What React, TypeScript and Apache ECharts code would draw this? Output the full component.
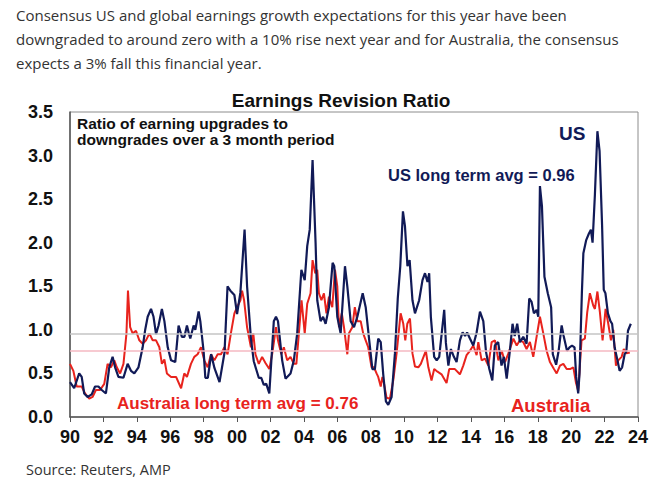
import React, { useEffect, useRef } from "react";
import * as echarts from "echarts";

// Ratio of earnings upgrades to downgrades, [decimal year, ratio]
const usRatio: [number, number][] = [
  [1990.0, 0.4], [1990.25, 0.33], [1990.55, 0.5], [1990.7, 0.46], [1990.85, 0.27], [1991.05, 0.23],
  [1991.3, 0.26], [1991.5, 0.35], [1991.7, 0.35], [1991.9, 0.31], [1992.15, 0.27], [1992.35, 0.57],
  [1992.55, 0.69], [1992.7, 0.57], [1992.9, 0.46], [1993.2, 0.45], [1993.45, 0.61], [1993.65, 0.53],
  [1993.85, 0.5], [1994.1, 0.57], [1994.35, 0.8], [1994.5, 1.0], [1994.65, 1.15], [1994.85, 1.24],
  [1995.0, 1.15], [1995.15, 0.95], [1995.3, 1.05], [1995.5, 1.24], [1995.65, 1.1], [1995.85, 0.8],
  [1996.05, 0.65], [1996.3, 0.63], [1996.5, 1.05], [1996.7, 0.92], [1996.85, 0.92], [1997.0, 1.05],
  [1997.1, 0.97], [1997.2, 0.9], [1997.4, 1.05], [1997.5, 1.0], [1997.7, 1.21], [1997.8, 1.1],
  [1998.0, 0.75], [1998.1, 0.45], [1998.25, 0.45], [1998.45, 0.72], [1998.65, 0.56], [1998.95, 0.4],
  [1999.25, 0.74], [1999.43, 1.5], [1999.6, 1.45], [1999.84, 1.4], [2000.0, 1.18], [2000.2, 1.43],
  [2000.45, 2.15], [2000.6, 1.5], [2000.83, 0.9], [2001.0, 0.64], [2001.3, 0.45], [2001.45, 0.45],
  [2001.6, 0.37], [2001.75, 0.38], [2001.93, 0.27], [2002.2, 1.1], [2002.33, 1.15], [2002.45, 1.1],
  [2002.7, 0.65], [2002.9, 0.44], [2003.2, 0.5], [2003.4, 0.65], [2003.6, 0.96], [2003.85, 1.69],
  [2004.05, 1.57], [2004.2, 1.96], [2004.35, 2.15], [2004.52, 2.95], [2004.7, 2.0], [2004.8, 1.34],
  [2005.0, 1.1], [2005.15, 1.15], [2005.3, 1.07], [2005.5, 1.26], [2005.72, 1.77], [2005.82, 1.73],
  [2006.0, 1.15], [2006.2, 0.96], [2006.46, 1.73], [2006.6, 1.5], [2006.8, 1.1], [2007.0, 1.03],
  [2007.2, 1.15], [2007.52, 1.42], [2007.7, 1.26], [2007.9, 0.9], [2008.1, 0.55], [2008.25, 0.55],
  [2008.45, 0.9], [2008.6, 0.86], [2008.75, 0.49], [2008.91, 0.18], [2009.05, 0.14], [2009.25, 0.23],
  [2009.45, 0.73], [2009.62, 1.36], [2009.77, 1.73], [2009.93, 2.36], [2010.05, 2.19], [2010.2, 1.73],
  [2010.33, 1.8], [2010.5, 1.34], [2010.65, 1.19], [2010.9, 1.34], [2011.1, 1.57], [2011.25, 1.65],
  [2011.4, 1.55], [2011.5, 1.65], [2011.6, 1.15], [2011.8, 0.69], [2011.95, 0.65], [2012.1, 0.69],
  [2012.4, 1.23], [2012.5, 0.85], [2012.65, 0.59], [2012.8, 0.78], [2012.98, 0.69], [2013.14, 0.63],
  [2013.34, 0.88], [2013.5, 0.97], [2013.65, 0.93], [2013.77, 0.97], [2013.94, 0.9], [2014.14, 0.82],
  [2014.34, 0.97], [2014.54, 1.21], [2014.74, 1.1], [2014.9, 0.75], [2015.1, 0.55], [2015.28, 0.42],
  [2015.43, 0.82], [2015.63, 0.86], [2015.83, 0.59], [2015.97, 0.69], [2016.14, 0.44], [2016.33, 0.76],
  [2016.49, 1.07], [2016.62, 0.93], [2016.77, 1.07], [2016.93, 0.86], [2017.13, 0.92], [2017.33, 0.84],
  [2017.49, 1.36], [2017.63, 1.32], [2017.77, 1.19], [2017.93, 1.23], [2018.03, 1.15], [2018.13, 2.65],
  [2018.25, 2.42], [2018.4, 1.61], [2018.6, 1.42], [2018.8, 1.26], [2018.9, 0.72], [2019.1, 0.6],
  [2019.25, 0.76], [2019.43, 1.05], [2019.55, 0.93], [2019.75, 0.76], [2019.9, 0.8], [2020.05, 0.82],
  [2020.2, 0.8], [2020.3, 0.46], [2020.42, 0.27], [2020.5, 0.5], [2020.64, 1.42], [2020.73, 1.88],
  [2020.9, 2.03], [2021.05, 2.1], [2021.18, 2.15], [2021.28, 2.0], [2021.42, 2.55], [2021.57, 3.28],
  [2021.7, 3.05], [2021.85, 2.2], [2021.95, 1.46], [2022.05, 1.42], [2022.2, 1.19], [2022.35, 1.1],
  [2022.45, 1.07], [2022.6, 0.8], [2022.77, 0.65], [2022.9, 0.53], [2023.05, 0.57], [2023.2, 0.72],
  [2023.3, 0.75], [2023.4, 0.99], [2023.57, 1.07],
];

const australiaRatio: [number, number][] = [
  [1990.0, 0.61], [1990.2, 0.53], [1990.4, 0.35], [1990.7, 0.35], [1990.9, 0.27], [1991.15, 0.21],
  [1991.35, 0.23], [1991.55, 0.31], [1991.8, 0.31], [1992.05, 0.38], [1992.25, 0.61], [1992.45, 0.57],
  [1992.65, 0.65], [1992.8, 0.57], [1993.0, 0.5], [1993.2, 0.61], [1993.38, 0.96], [1993.47, 1.45],
  [1993.6, 1.03], [1993.75, 0.96], [1993.95, 0.99], [1994.15, 0.88], [1994.35, 0.84], [1994.55, 0.88],
  [1994.75, 0.96], [1994.95, 0.88], [1995.15, 0.88], [1995.35, 0.8], [1995.5, 0.61], [1995.65, 0.66],
  [1995.8, 0.5], [1996.05, 0.46], [1996.35, 0.46], [1996.65, 0.33], [1996.84, 0.5], [1997.0, 0.46],
  [1997.24, 0.61], [1997.44, 0.69], [1997.64, 0.72], [1997.84, 0.8], [1998.04, 0.65], [1998.24, 0.57],
  [1998.44, 0.72], [1998.64, 0.65], [1998.84, 0.72], [1999.04, 0.72], [1999.24, 0.8], [1999.43, 0.72],
  [1999.63, 0.96], [1999.84, 1.19], [2000.0, 1.26], [2000.2, 1.34], [2000.3, 1.45], [2000.42, 1.34],
  [2000.6, 1.03], [2000.83, 0.8], [2000.97, 0.96], [2001.1, 0.72], [2001.3, 0.61], [2001.5, 0.69],
  [2001.7, 0.62], [2001.93, 0.55], [2002.1, 0.72], [2002.33, 1.03], [2002.45, 0.88], [2002.65, 0.72],
  [2002.8, 0.8], [2003.0, 0.65], [2003.2, 0.69], [2003.4, 0.61], [2003.55, 0.61], [2003.7, 0.96],
  [2003.86, 1.34], [2004.05, 0.96], [2004.2, 1.3], [2004.4, 1.42], [2004.52, 1.8], [2004.68, 1.65],
  [2004.8, 1.69], [2004.9, 1.42], [2005.05, 1.34], [2005.2, 1.42], [2005.35, 1.19], [2005.5, 1.38],
  [2005.7, 1.26], [2005.86, 1.69], [2006.0, 1.5], [2006.1, 1.03], [2006.27, 1.19], [2006.4, 1.03],
  [2006.6, 0.72], [2006.7, 0.96], [2006.9, 1.03], [2007.05, 1.26], [2007.2, 1.1], [2007.4, 1.1],
  [2007.55, 0.96], [2007.7, 0.88], [2007.85, 0.8], [2008.05, 0.57], [2008.2, 0.57], [2008.35, 0.5],
  [2008.45, 0.46], [2008.6, 0.35], [2008.7, 0.46], [2008.8, 0.38], [2008.95, 0.22], [2009.15, 0.21],
  [2009.35, 0.42], [2009.55, 0.73], [2009.79, 1.19], [2009.95, 1.07], [2010.07, 0.88], [2010.19, 1.07],
  [2010.35, 1.13], [2010.5, 0.73], [2010.65, 0.58], [2010.85, 0.57], [2011.0, 0.61], [2011.3, 0.76],
  [2011.45, 0.57], [2011.64, 0.42], [2011.8, 0.55], [2012.0, 0.52], [2012.24, 0.49], [2012.54, 0.39],
  [2012.7, 0.55], [2013.04, 0.55], [2013.34, 0.49], [2013.54, 0.59], [2013.74, 0.71], [2013.94, 0.76],
  [2014.14, 0.82], [2014.34, 0.71], [2014.44, 0.86], [2014.64, 0.65], [2014.84, 0.67], [2015.04, 0.59],
  [2015.24, 0.86], [2015.44, 0.88], [2015.64, 0.65], [2015.84, 0.76], [2016.04, 0.63], [2016.24, 0.73],
  [2016.54, 0.9], [2016.74, 0.82], [2016.93, 0.88], [2017.13, 0.86], [2017.33, 0.78], [2017.53, 0.86],
  [2017.73, 0.69], [2017.93, 0.92], [2018.13, 1.15], [2018.33, 0.96], [2018.53, 0.76], [2018.73, 0.63],
  [2018.97, 0.55], [2019.13, 0.5], [2019.33, 0.59], [2019.53, 0.61], [2019.73, 0.55], [2019.93, 0.55],
  [2020.13, 0.57], [2020.29, 0.39], [2020.42, 0.3], [2020.62, 0.88], [2020.82, 0.9], [2020.96, 1.2],
  [2021.12, 1.42], [2021.32, 1.28], [2021.42, 1.24], [2021.57, 1.44], [2021.72, 1.2], [2021.88, 0.88],
  [2022.06, 1.24], [2022.22, 1.07], [2022.38, 0.88], [2022.52, 1.0], [2022.68, 0.59], [2022.82, 0.65],
  [2023.02, 0.69], [2023.15, 0.78], [2023.31, 0.73], [2023.51, 0.74],
];

const usLongTermAvg = 0.96;
const australiaLongTermAvg = 0.76;

const introLines = [
  "Consensus US and global earnings growth expectations for this year have been",
  "downgraded to around zero with a 10% rise next year and for Australia, the consensus",
  "expects a 3% fall this financial year.",
];

const NAVY = "#111a57";
const RED = "#e8231d";
const ARIAL = "'Liberation Sans', Arial, sans-serif";

export default function App() {
  const ref = useRef<HTMLDivElement>(null);

  useEffect(() => {
    if (!ref.current) return;
    const chart = echarts.init(ref.current, null, { renderer: "svg" });

    const boldText = (text: string, x: number, y: number, size: number, fill: string, align = "left") => ({
      type: "text",
      x,
      y,
      style: {
        text,
        fill,
        font: `bold ${size}px ${ARIAL}`,
        textAlign: align,
        textVerticalAlign: "middle",
      },
    });

    chart.setOption({
      animation: false,
      backgroundColor: "#ffffff",
      grid: {
        left: 70,
        right: 34,
        top: 112,
        bottom: 65,
        show: true,
        borderColor: "#8c8c8c",
        borderWidth: 1,
        backgroundColor: "transparent",
      },
      xAxis: {
        type: "value",
        min: 1990,
        max: 2024,
        interval: 2,
        splitLine: { show: false },
        axisLine: { lineStyle: { color: "#555", width: 1.5 } },
        axisTick: { show: true, length: 5, lineStyle: { color: "#555" } },
        axisLabel: {
          margin: 11,
          color: "#111",
          fontFamily: ARIAL,
          fontWeight: "bold",
          fontSize: 18,
          formatter: (v: number) => String(Math.round(v) % 100).padStart(2, "0"),
        },
      },
      yAxis: {
        type: "value",
        min: 0,
        max: 3.5,
        interval: 0.5,
        splitLine: { show: false },
        axisLine: { show: true, lineStyle: { color: "#555", width: 1.5 } },
        axisTick: { show: false },
        axisLabel: {
          margin: 17,
          color: "#111",
          fontFamily: ARIAL,
          fontWeight: "bold",
          fontSize: 18,
          formatter: (v: number) => v.toFixed(1),
        },
      },
      series: [
        {
          name: "Averages",
          type: "line",
          data: [],
          silent: true,
          markLine: {
            silent: true,
            symbol: "none",
            label: { show: false },
            data: [
              { yAxis: usLongTermAvg, lineStyle: { color: "#c4c4c4", width: 1.5, type: "solid" } },
              { yAxis: australiaLongTermAvg, lineStyle: { color: "#f5b9c2", width: 1.5, type: "solid" } },
            ],
          },
        },
        {
          name: "Australia",
          type: "line",
          data: australiaRatio,
          showSymbol: false,
          lineStyle: { color: RED, width: 2 },
          itemStyle: { color: RED },
          z: 3,
        },
        {
          name: "US",
          type: "line",
          data: usRatio,
          showSymbol: false,
          lineStyle: { color: NAVY, width: 2.2 },
          itemStyle: { color: NAVY },
          z: 4,
        },
      ],
      graphic: [
        ...introLines.map((line, i) => ({
          type: "text",
          x: 16,
          y: 15 + i * 24,
          style: {
            text: line,
            fill: "#333333",
            font: "15px 'Open Sans', sans-serif",
            textVerticalAlign: "middle",
          },
        })),
        {
          type: "text",
          x: 26,
          y: 469,
          style: {
            text: "Source: Reuters, AMP",
            fill: "#333333",
            font: "14.5px 'Open Sans', sans-serif",
            textVerticalAlign: "middle",
          },
        },
        boldText("Earnings Revision Ratio", 341, 100, 19, "#111", "center"),
        boldText("Ratio of earning upgrades to", 77, 123, 15.5, "#111"),
        boldText("downgrades over a 3 month period", 77, 139, 15.5, "#111"),
        boldText("US", 559, 133, 19, NAVY),
        boldText(`US long term avg = ${usLongTermAvg.toFixed(2)}`, 388, 175, 16.5, NAVY),
        boldText(`Australia long term avg = ${australiaLongTermAvg.toFixed(2)}`, 117, 403, 17, RED),
        boldText("Australia", 511, 405, 18.5, RED),
      ],
    });

    return () => chart.dispose();
  }, []);

  return (
    <div
      ref={ref}
      style={{ position: "fixed", left: 0, top: 0, width: 672, height: 482, background: "#fff" }}
    />
  );
}
